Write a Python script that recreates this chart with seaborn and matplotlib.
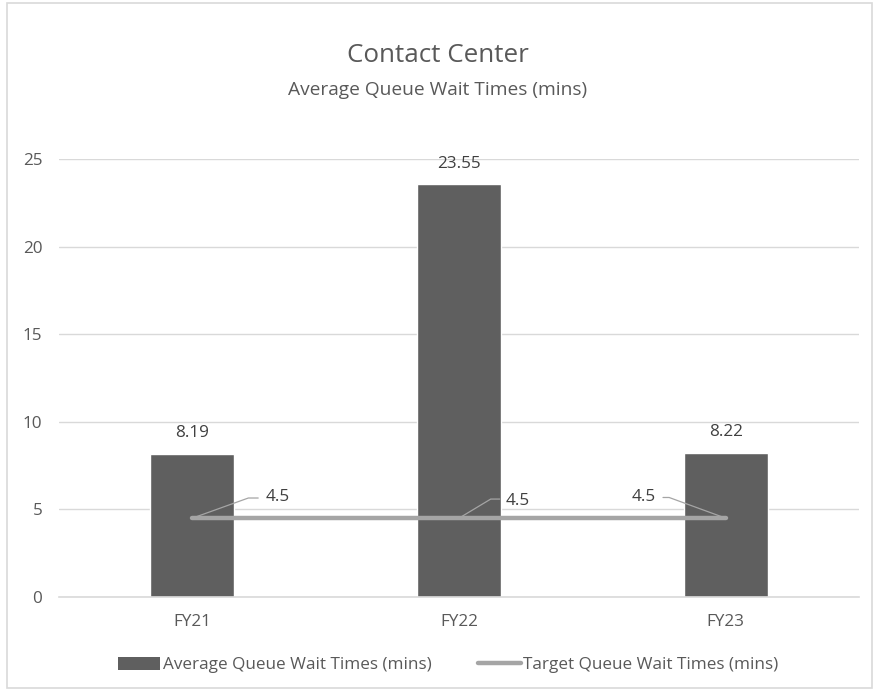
import matplotlib
matplotlib.use("Agg")
import matplotlib.pyplot as plt
import seaborn as sns
import pandas as pd
from matplotlib.patches import Rectangle, Patch
from matplotlib.lines import Line2D

# data
years = ["FY21", "FY22", "FY23"]
avg_wait = [8.19, 23.55, 8.22]
target_wait = [4.5, 4.5, 4.5]
y_ticks = [0, 5, 10, 15, 20, 25]

BAR_COLOR = "#5f5f5f"
LINE_COLOR = "#a5a5a5"
TEXT_COLOR = "#595959"
GRID_COLOR = "#d9d9d9"
FS = 12.3

sns.set_theme(style="white")
plt.rcParams["font.family"] = ["Open Sans", "DejaVu Sans"]

df = pd.DataFrame({"year": years, "avg": avg_wait, "target": target_wait})

fig = plt.figure(figsize=(8.76, 6.91), dpi=100)
ax = fig.add_axes([59 / 876, 1 - 597 / 691, 800 / 876, 438 / 691])

sns.barplot(data=df, x="year", y="avg", color=BAR_COLOR, width=0.315,
            saturation=1, ax=ax, zorder=2)
ax.plot(range(len(years)), df["target"], color=LINE_COLOR, lw=3.2,
        solid_capstyle="round", zorder=3)

ax.set_xlim(-0.5, 2.5)
ax.set_ylim(0, 25)
ax.set_yticks(y_ticks)
ax.yaxis.grid(True, color=GRID_COLOR, lw=1)
ax.set_axisbelow(True)
for s in ["top", "right", "left"]:
    ax.spines[s].set_visible(False)
ax.spines["bottom"].set_color(GRID_COLOR)
ax.spines["bottom"].set_linewidth(1.2)
ax.set_xlabel("")
ax.set_ylabel("")
ax.tick_params(axis="both", length=0, labelsize=FS, colors=TEXT_COLOR)
ax.tick_params(axis="y", pad=12)
ax.tick_params(axis="x", pad=12)

# bar value labels
for i, v in enumerate(avg_wait):
    ax.text(i, v + 1.18, f"{v:g}", ha="center", va="center", fontsize=FS,
            color="#404040")

# target labels with leader lines (offsets from each point)
leaders = [
    [(0.0, 0.0), (0.21, 1.15), (0.247, 1.15)],
    [(0.0, 0.0), (0.119, 1.09), (0.153, 1.09)],
    [(0.0, 0.0), (-0.212, 1.18), (-0.235, 1.18)],
]
label_pos = [(0.32, 1.18), (0.221, 0.98), (-0.308, 1.18)]
for i, v in enumerate(target_wait):
    xs = [i + dx for dx, dy in leaders[i]]
    ys = [v + dy for dx, dy in leaders[i]]
    ax.plot(xs, ys, color=LINE_COLOR, lw=0.9, zorder=4)
    lx, ly = label_pos[i]
    ax.text(i + lx, v + ly, f"{v:g}", ha="center", va="center",
            fontsize=FS, color="#404040", zorder=5)

# titles
fig.text(0.5, 1 - 55 / 691, "Contact Center", ha="center", va="center",
         fontsize=18.7, color=TEXT_COLOR)
fig.text(0.5, 1 - 90 / 691, "Average Queue Wait Times (mins)", ha="center",
         va="center", fontsize=13.8, color=TEXT_COLOR)

handles = [
    Patch(facecolor=BAR_COLOR, edgecolor="none"),
    Line2D([0], [0], color=LINE_COLOR, lw=3.2, solid_capstyle="round"),
]
fig.legend(handles, ["Average Queue Wait Times (mins)",
                     "Target Queue Wait Times (mins)"],
           loc="center", bbox_to_anchor=(448 / 876, 1 - 665 / 691), ncol=2,
           frameon=False, fontsize=FS, labelcolor=TEXT_COLOR,
           handlelength=2.5, handleheight=0.8, handletextpad=0.12,
           columnspacing=2.75, borderpad=0)

fig.add_artist(Rectangle((7 / 876, 3 / 691), 865 / 876, 685 / 691,
                         transform=fig.transFigure, fill=False,
                         edgecolor=GRID_COLOR, lw=1.2))

fig.savefig("out.png", dpi=100, facecolor="white")
